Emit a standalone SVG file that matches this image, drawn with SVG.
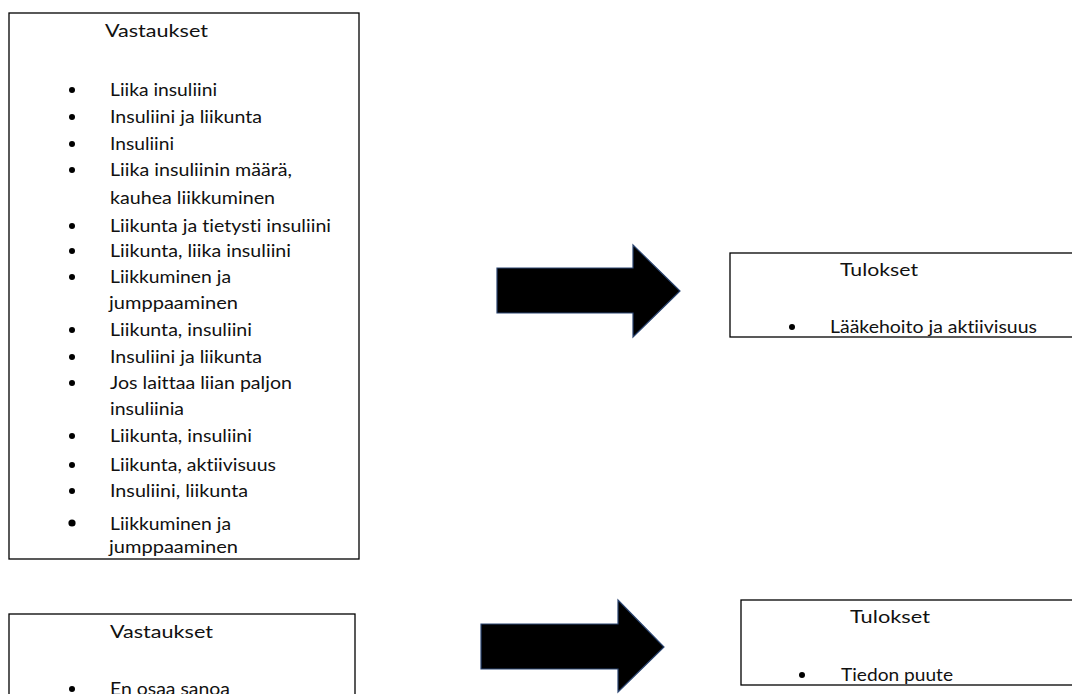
<svg xmlns="http://www.w3.org/2000/svg" width="1072" height="694" viewBox="0 0 1072 694">
  <style>
    .box { fill: #ffffff; stroke: #000000; stroke-width: 1.3; }
    .t { font-family: "Lato", "Liberation Sans", sans-serif; font-size: 17.5px; fill: #111111; font-variant-ligatures: none; font-feature-settings: "liga" 0, "clig" 0; }
    .dot { fill: #000000; }
    .arrow { fill: #000000; stroke: #2a4470; stroke-width: 1.2; stroke-linejoin: miter; }
  </style>
  <rect x="0" y="0" width="1072" height="694" fill="#ffffff"/>

  <g id="vastaukset1">
    <rect class="box" x="9" y="13" width="350" height="546"/>
    <text class="t" x="105" y="37" textLength="103" lengthAdjust="spacingAndGlyphs">Vastaukset</text>
    <circle class="dot" cx="72" cy="90" r="3"/>
    <text class="t" x="110" y="96" textLength="107" lengthAdjust="spacingAndGlyphs">Liika insuliini</text>
    <circle class="dot" cx="72" cy="117" r="3"/>
    <text class="t" x="110" y="123" textLength="152" lengthAdjust="spacingAndGlyphs">Insuliini ja liikunta</text>
    <circle class="dot" cx="72" cy="144" r="3"/>
    <text class="t" x="110" y="150" textLength="64" lengthAdjust="spacingAndGlyphs">Insuliini</text>
    <circle class="dot" cx="72" cy="170" r="3"/>
    <text class="t" x="110" y="176" textLength="182" lengthAdjust="spacingAndGlyphs">Liika insuliinin määrä,</text>
    <text class="t" x="110" y="204" textLength="165" lengthAdjust="spacingAndGlyphs">kauhea liikkuminen</text>
    <circle class="dot" cx="72" cy="226" r="3"/>
    <text class="t" x="110" y="232" textLength="221" lengthAdjust="spacingAndGlyphs">Liikunta ja tietysti insuliini</text>
    <circle class="dot" cx="72" cy="251" r="3"/>
    <text class="t" x="110" y="257" textLength="181" lengthAdjust="spacingAndGlyphs">Liikunta, liika insuliini</text>
    <circle class="dot" cx="72" cy="277" r="3"/>
    <text class="t" x="110" y="283" textLength="121" lengthAdjust="spacingAndGlyphs">Liikkuminen ja</text>
    <text class="t" x="109" y="309" textLength="129" lengthAdjust="spacingAndGlyphs">jumppaaminen</text>
    <circle class="dot" cx="72" cy="330" r="3"/>
    <text class="t" x="110" y="336" textLength="142" lengthAdjust="spacingAndGlyphs">Liikunta, insuliini</text>
    <circle class="dot" cx="72" cy="357" r="3"/>
    <text class="t" x="110" y="363" textLength="152" lengthAdjust="spacingAndGlyphs">Insuliini ja liikunta</text>
    <circle class="dot" cx="72" cy="383" r="3"/>
    <text class="t" x="110" y="389" textLength="182" lengthAdjust="spacingAndGlyphs">Jos laittaa liian paljon</text>
    <text class="t" x="110" y="415" textLength="74" lengthAdjust="spacingAndGlyphs">insuliinia</text>
    <circle class="dot" cx="72" cy="436" r="3"/>
    <text class="t" x="110" y="442" textLength="142" lengthAdjust="spacingAndGlyphs">Liikunta, insuliini</text>
    <circle class="dot" cx="72" cy="465" r="3"/>
    <text class="t" x="110" y="471" textLength="166" lengthAdjust="spacingAndGlyphs">Liikunta, aktiivisuus</text>
    <circle class="dot" cx="72" cy="491" r="3"/>
    <text class="t" x="110" y="497" textLength="138" lengthAdjust="spacingAndGlyphs">Insuliini, liikunta</text>
    <circle class="dot" cx="72" cy="523" r="3.6"/>
    <text class="t" x="110" y="530" textLength="121" lengthAdjust="spacingAndGlyphs">Liikkuminen ja</text>
    <text class="t" x="109" y="553" textLength="129" lengthAdjust="spacingAndGlyphs">jumppaaminen</text>
  </g>

  <g id="vastaukset2">
    <rect class="box" x="9" y="614" width="346" height="100"/>
    <text class="t" x="110" y="638" textLength="103" lengthAdjust="spacingAndGlyphs">Vastaukset</text>
    <circle class="dot" cx="72" cy="689" r="3"/>
    <text class="t" x="110" y="695" textLength="120" lengthAdjust="spacingAndGlyphs">En osaa sanoa</text>
  </g>

  <g id="tulokset1">
    <rect class="box" x="730" y="253" width="350" height="84"/>
    <text class="t" x="840" y="276" textLength="78" lengthAdjust="spacingAndGlyphs">Tulokset</text>
    <circle class="dot" cx="792" cy="327" r="3"/>
    <text class="t" x="830" y="333" textLength="207" lengthAdjust="spacingAndGlyphs">Lääkehoito ja aktiivisuus</text>
  </g>

  <g id="tulokset2">
    <rect class="box" x="741" y="600" width="340" height="85"/>
    <text class="t" x="850" y="623" textLength="80" lengthAdjust="spacingAndGlyphs">Tulokset</text>
    <circle class="dot" cx="802" cy="675" r="3"/>
    <text class="t" x="841" y="681" textLength="112" lengthAdjust="spacingAndGlyphs">Tiedon puute</text>
  </g>

  <g id="connectors">
    <polygon class="arrow" points="497,268 633,268 633,245 680,291 633,337 633,313 497,313"/>
    <polygon class="arrow" points="481,624 618,624 618,600 664,647 618,692 618,669 481,669"/>
  </g>
</svg>
